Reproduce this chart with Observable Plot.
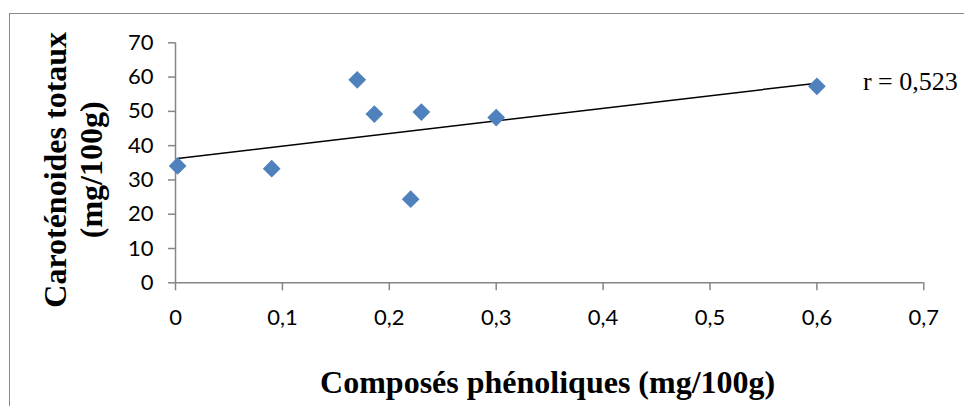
<!DOCTYPE html>
<html><head><meta charset="utf-8">
<script src="https://cdn.jsdelivr.net/npm/d3@7"></script>
<script src="https://cdn.jsdelivr.net/npm/@observablehq/plot@0.6"></script>
<style>
html,body{margin:0;padding:0;background:#fff;}
#wrap{position:relative;width:964px;height:406px;overflow:hidden;}
#wrap svg{position:absolute;left:0;top:0;}
#border{position:absolute;left:8.5px;top:12.5px;width:2000px;height:2000px;border-left:1.5px solid #898989;border-top:1.5px solid #898989;pointer-events:none;}
</style></head><body><div id="wrap"></div>
<script>
const phenols = [0.002, 0.09, 0.17, 0.186, 0.22, 0.23, 0.3, 0.6];
const carotenoids = [34.1, 33.3, 59.2, 49.2, 24.4, 49.8, 48.2, 57.3];
const xTicks = [0, 0.1, 0.2, 0.3, 0.4, 0.5, 0.6, 0.7];
const yTicks = [0, 10, 20, 30, 40, 50, 60, 70];
const xLabel = "Composés phénoliques (mg/100g)";
const yLabel = "Caroténoides totaux\n(mg/100g)";
const rLabel = "r = 0,523";

const data = phenols.map((x, i) => ({x, y: carotenoids[i]}));
const fmt = d => String(d).replace(".", ",");
const grey = "#868686";
const serif = "'Liberation Serif', 'Times New Roman', serif";

const plot = Plot.plot({
  width: 964, height: 406,
  marginLeft: 175, marginRight: 40.7, marginTop: 42.3, marginBottom: 123.7,
  style: {fontFamily: "Lato, 'Open Sans', sans-serif", fontSize: "22px", color: "black", background: "transparent", overflow: "visible"},
  x: {domain: [0, 0.7]},
  y: {domain: [0, 70]},
  marks: [
    Plot.ruleY([0], {stroke: grey, strokeWidth: 1.5}),
    Plot.ruleX([0], {stroke: grey, strokeWidth: 1.5}),
    Plot.axisX(xTicks, {tickSize: 8, tickPadding: 19, tickFormat: fmt, stroke: grey, strokeWidth: 1.5, fill: "black", label: null}),
    Plot.axisY(yTicks, {tickSize: 7, tickPadding: 15, tickFormat: fmt, stroke: grey, strokeWidth: 1.5, fill: "black", label: null}),
    Plot.linearRegressionY(data, {x: "x", y: "y", ci: 0, stroke: "black", strokeWidth: 1.5}),
    Plot.dot(data, {x: "x", y: "y", symbol: "diamond2", r: 8, fill: "#4F81BD", stroke: "none"}),
    Plot.text([data[data.length - 1]], {x: "x", y: "y", text: () => rLabel, textAnchor: "start", dx: 46, dy: -5, fontFamily: serif, fontSize: 26, fill: "black"}),
    Plot.text([xLabel], {frameAnchor: "bottom", text: d => d, textAnchor: "middle", lineAnchor: "middle", dx: -2, dy: 100, fontFamily: serif, fontWeight: "bold", fontSize: 32, fill: "black"}),
    Plot.text([yLabel], {frameAnchor: "left", text: d => d, rotate: -90, textAnchor: "middle", lineAnchor: "middle", dx: -103, dy: 7, lineHeight: 1.12, fontFamily: serif, fontWeight: "bold", fontSize: 32, fill: "black"})
  ]
});
const wrap = document.getElementById("wrap");
wrap.appendChild(plot);
const b = document.createElement("div");
b.id = "border";
wrap.appendChild(b);
</script>
</body></html>
